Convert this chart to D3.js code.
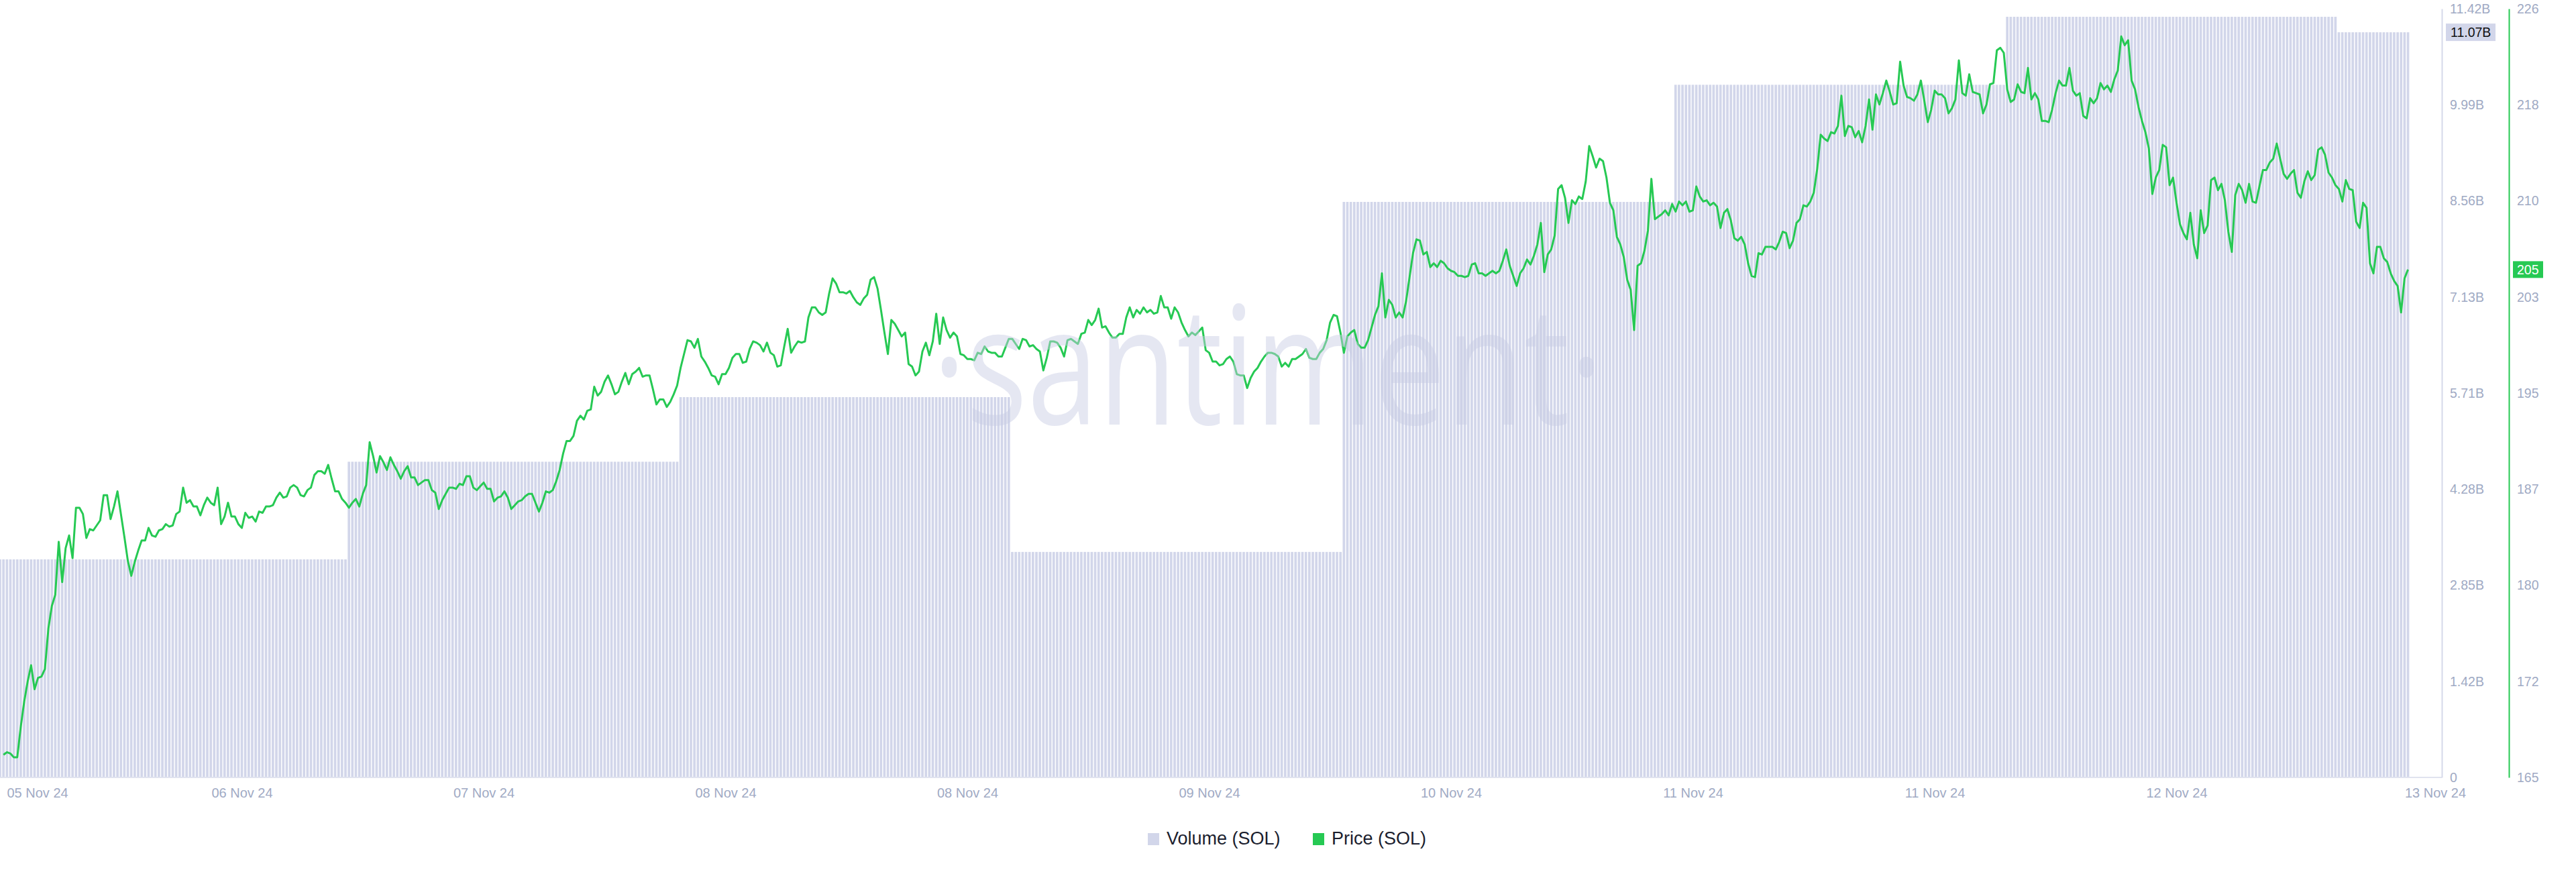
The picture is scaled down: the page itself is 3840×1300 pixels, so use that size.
<!DOCTYPE html>
<html>
<head>
<meta charset="utf-8">
<script src="https://cdn.jsdelivr.net/npm/d3@7"></script>
<style>
  html, body { margin: 0; padding: 0; background: #ffffff; }
  svg { display: block; }
</style>
</head>
<body>
<svg id="chart" width="3840" height="1300"></svg>
<script>
// ---------------- DATA ----------------
const priceStart = "2024-11-05T23:00:00Z";   // first price sample
const priceStepMinutes = 15;                  // sampling interval of the price series
const priceValues = [
  166.8,167.0,166.9,166.6,166.6,169.0,171.0,172.6,173.9,172.0,
  172.9,173.0,173.6,176.8,178.6,179.5,183.7,180.5,183.2,184.2,
  182.4,186.4,186.4,185.9,184.0,184.7,184.6,185.0,185.4,187.4,
  187.4,185.5,186.5,187.7,185.9,184.1,182.2,181.0,182.1,183.0,
  183.8,183.8,184.8,184.2,184.1,184.6,184.7,185.1,184.9,185.0,
  185.9,186.1,188.0,186.8,187.0,186.5,186.5,185.8,186.6,187.2,
  186.8,186.6,188.0,185.1,185.7,186.8,185.7,185.7,185.1,184.8,
  186.0,185.6,185.7,185.3,186.1,186.0,186.5,186.5,186.6,187.2,
  187.6,187.2,187.3,188.0,188.2,188.0,187.4,187.3,187.8,188.0,
  189.0,189.3,189.3,189.1,189.8,188.7,187.7,187.7,187.1,186.8,
  186.4,186.8,187.1,186.5,187.5,188.2,191.6,190.5,189.2,190.5,
  190.0,189.4,190.4,189.8,189.3,188.7,189.3,189.7,188.8,188.8,
  188.2,188.4,188.6,188.6,187.8,187.6,186.3,187.0,187.5,188.0,
  188.0,187.9,188.3,188.2,188.9,188.9,188.0,187.8,188.1,188.4,
  187.9,187.9,186.9,187.2,187.3,187.7,187.2,186.3,186.6,186.9,
  187.0,187.3,187.5,187.5,186.8,186.1,186.8,187.7,187.6,187.8,
  188.5,189.4,190.7,191.7,191.7,192.1,193.3,193.7,193.4,194.1,
  194.2,196.0,195.3,195.6,196.4,196.9,196.2,195.4,195.6,196.4,
  197.1,196.2,197.0,197.2,197.5,196.8,196.9,196.9,195.8,194.6,
  195.0,195.0,194.4,194.8,195.4,196.1,197.5,198.6,199.7,199.6,
  199.1,199.8,198.4,198.0,197.5,196.9,196.8,196.2,197.0,197.0,
  197.5,198.3,198.6,198.6,197.9,198.0,199.0,199.6,199.5,199.3,
  198.8,199.5,198.7,198.5,197.6,197.7,199.2,200.6,198.7,199.2,
  199.6,199.5,199.6,201.5,202.3,202.3,201.9,201.7,201.9,203.4,
  204.6,204.2,203.5,203.5,203.4,203.6,203.1,202.7,202.5,203.0,
  203.3,204.5,204.7,203.8,202.1,200.3,198.6,201.3,201.0,200.5,
  200.0,200.3,197.8,197.6,196.9,197.2,198.8,199.5,198.5,199.6,
  201.8,199.4,201.5,200.5,199.9,200.3,200.0,198.6,198.5,198.2,
  198.2,198.1,198.7,198.6,199.2,198.8,198.7,198.7,198.4,198.4,
  199.1,199.8,199.8,199.4,199.0,199.8,199.7,199.2,199.3,199.0,
  198.8,197.3,198.3,199.6,199.6,199.5,199.1,198.4,199.7,199.8,
  199.6,199.4,200.2,200.3,201.3,200.9,201.3,202.2,200.7,200.8,
  200.3,199.9,199.9,200.2,200.2,201.5,202.3,201.5,202.1,201.8,
  202.3,201.9,202.1,201.8,201.9,203.2,202.3,202.3,201.4,202.3,
  201.9,201.1,200.5,200.0,200.3,200.1,200.4,200.7,198.9,198.7,
  198.0,198.0,197.7,197.8,198.2,198.4,198.0,197.0,196.9,196.9,
  195.9,196.7,197.2,197.5,198.0,198.4,198.7,198.7,198.6,198.4,
  197.6,197.9,197.6,198.2,198.2,198.4,198.6,199.0,198.3,198.2,
  198.2,198.7,199.0,199.7,201.1,201.7,201.6,200.3,198.7,200.0,
  200.3,200.5,199.4,199.1,199.1,199.7,200.7,201.7,202.4,205.0,
  201.5,202.9,202.5,201.5,201.9,201.5,202.8,204.7,206.6,207.7,
  207.6,206.5,206.7,205.5,205.8,205.5,206.0,205.8,205.4,205.2,
  205.1,204.8,204.8,204.7,204.8,205.7,205.8,205.0,205.0,204.8,
  205.0,205.2,205.0,205.2,206.0,206.9,205.6,204.8,204.0,205.0,
  205.4,206.1,205.7,206.4,207.3,209.0,205.1,206.5,206.9,208.0,
  211.7,212.0,211.0,209.0,210.8,210.5,211.1,210.9,212.3,215.1,
  214.3,213.4,214.1,213.9,212.6,210.6,210.0,207.9,207.3,206.3,
  204.5,203.7,200.5,205.6,205.8,206.8,208.4,212.5,209.3,209.5,
  209.7,210.0,209.6,210.5,209.9,210.7,210.4,210.7,209.9,210.0,
  211.9,211.1,210.7,210.8,210.4,210.6,210.3,208.6,209.8,210.1,
  209.2,207.8,207.6,207.9,207.3,205.8,204.8,204.7,206.6,206.5,
  207.1,207.1,207.1,206.9,207.5,208.3,208.2,207.0,207.6,209.0,
  209.3,210.4,210.3,210.7,211.4,213.3,216.0,215.7,215.5,216.2,
  216.1,216.7,219.1,215.9,216.7,216.6,215.8,216.3,215.4,216.7,
  218.8,216.4,219.2,218.4,219.3,220.3,219.4,218.4,218.5,221.8,
  219.9,219.0,218.9,218.7,219.2,220.3,218.7,217.0,218.0,219.5,
  219.2,219.2,218.9,217.7,218.1,218.8,221.9,219.3,219.1,220.8,
  219.4,219.3,219.2,217.7,218.4,220.0,220.1,222.7,222.9,222.5,
  219.6,218.6,218.8,220.0,219.4,219.3,221.3,218.8,219.3,218.8,
  217.1,217.1,217.0,218.0,219.3,220.3,219.9,219.9,221.3,219.5,
  219.1,219.3,217.5,217.3,218.9,218.5,218.9,220.1,219.6,219.9,
  219.4,220.4,221.1,223.8,223.1,223.5,220.3,219.6,218.2,217.1,
  216.2,214.9,211.3,212.6,213.2,215.2,215.0,212.0,212.6,210.6,
  208.9,208.2,207.7,209.8,207.3,206.2,210.0,208.2,208.8,212.4,
  212.6,211.6,212.1,210.8,208.3,206.7,211.2,212.1,211.6,210.6,
  212.1,210.7,210.6,211.9,213.2,213.2,213.8,214.1,215.3,214.1,
  212.9,212.5,212.9,213.2,211.4,211.0,212.3,213.1,212.4,212.8,
  214.8,215.0,214.4,213.0,212.6,212.0,211.7,210.7,212.4,211.7,
  211.6,209.1,208.6,210.6,210.2,205.8,205.0,207.1,207.1,206.2,
  205.9,205.0,204.4,204.0,201.9,204.6,205.3
];

// Daily volume (SOL), each value applies from its day start until the next one
const volumeDays   = ["2024-11-06","2024-11-07","2024-11-08","2024-11-09","2024-11-10","2024-11-11","2024-11-12","2024-11-13"];
const volumeValues = [3.24e9, 4.69e9, 5.65e9, 3.35e9, 8.55e9, 10.29e9, 11.30e9, 11.07e9];

// Axes
const xDomain      = ["2024-11-05T22:45:00Z", "2024-11-13T05:45:00Z"];
const xTickTimes   = ["2024-11-05T22:45:00Z","2024-11-06T16:15:00Z","2024-11-07T09:45:00Z","2024-11-08T03:15:00Z",
                      "2024-11-08T20:45:00Z","2024-11-09T14:15:00Z","2024-11-10T07:45:00Z","2024-11-11T01:15:00Z",
                      "2024-11-11T18:45:00Z","2024-11-12T12:15:00Z","2024-11-13T05:45:00Z"];
const xTickLabels  = ["05 Nov 24","06 Nov 24","07 Nov 24","08 Nov 24","08 Nov 24","09 Nov 24",
                      "10 Nov 24","11 Nov 24","11 Nov 24","12 Nov 24","13 Nov 24"];
const volumeDomain     = [0, 11.42e9];
const volumeTicks      = [0, 1.4275e9, 2.855e9, 4.2825e9, 5.71e9, 7.1375e9, 8.565e9, 9.9925e9, 11.42e9];
const volumeTickLabels = ["0","1.42B","2.85B","4.28B","5.71B","7.13B","8.56B","9.99B","11.42B"];
const priceDomain      = [165, 226];
const priceTicks       = [165, 172.625, 180.25, 187.875, 195.5, 203.125, 210.75, 218.375, 226];
const priceTickLabels  = ["165","172","180","187","195","203","210","218","226"];
const legendLabels     = ["Volume (SOL)", "Price (SOL)"];
const watermarkText    = "\u00B7santiment\u00B7";

// ---------------- LAYOUT / STYLE ----------------
const W = 3840, H = 1300;
const plotTop = 13, plotBottom = 1159, plotRight = 3640, xRangeEnd = 3605;
const volAxisX = 3640, priceAxisX = 3740;
const GREEN = "#26c953", BAR = "#d2d6ea", AXIS_TXT = "#9faac4", AXIS_LINE = "#d5d9ea";
const FONT = "'Liberation Sans', Arial, Helvetica, sans-serif";

const svg = d3.select("#chart");
svg.append("rect").attr("width", W).attr("height", H).attr("fill", "#fff");

const x = d3.scaleUtc().domain(xDomain.map(d => new Date(d))).range([0, xRangeEnd]);
const yVol = d3.scaleLinear().domain(volumeDomain).range([plotBottom, plotTop]);
const yPrice = d3.scaleLinear().domain(priceDomain).range([plotBottom, plotTop]);

const start = new Date(priceStart);
const priceData = priceValues.map((v, i) => ({ t: d3.utcMinute.offset(start, i * priceStepMinutes), v }));
const lastPoint = priceData[priceData.length - 1];

const dayDates = volumeDays.map(d => new Date(d + "T00:00:00Z"));
function volumeAt(t) {
  let i = d3.bisectRight(dayDates, t) - 1;
  i = Math.max(0, Math.min(volumeValues.length - 1, i));
  return volumeValues[i];
}

// clip
svg.append("defs").append("clipPath").attr("id", "plotClip")
  .append("rect").attr("x", 0).attr("y", 0).attr("width", plotRight).attr("height", plotBottom);

const plot = svg.append("g").attr("clip-path", "url(#plotClip)");

// volume bars (one thin bar per 15-min step, height = that day's volume)
const barTimes = d3.utcMinute.every(priceStepMinutes).range(x.domain()[0], d3.utcMinute.offset(lastPoint.t, 1));
const step = x(d3.utcMinute.offset(start, priceStepMinutes)) - x(start);
const barW = step * 0.72;
plot.append("g").selectAll("rect").data(barTimes).join("rect")
  .attr("x", d => x(d) - barW / 2)
  .attr("width", barW)
  .attr("y", d => yVol(volumeAt(d)))
  .attr("height", d => plotBottom - yVol(volumeAt(d)))
  .attr("fill", BAR);

// watermark (single text element)
svg.append("text")
  .attr("x", 1890).attr("y", 633)
  .attr("text-anchor", "middle")
  .attr("font-family", "'Open Sans', 'Noto Sans', sans-serif")
  .attr("font-size", 245)
  .attr("textLength", 1000).attr("lengthAdjust", "spacingAndGlyphs")
  .attr("fill", "rgb(200,205,228)").attr("fill-opacity", 0.47)
  .text(watermarkText);

// price line
plot.append("path").datum(priceData)
  .attr("fill", "none").attr("stroke", GREEN).attr("stroke-width", 3)
  .attr("stroke-linejoin", "round")
  .attr("d", d3.line().x(d => x(d.t)).y(d => yPrice(d.v)));

// bottom baseline
svg.append("line").attr("x1", 0).attr("x2", plotRight).attr("y1", plotBottom).attr("y2", plotBottom)
  .attr("stroke", "#e0e3ef").attr("stroke-width", 2);

// x axis labels
const xAxis = d3.axisBottom(x).tickValues(xTickTimes.map(d => new Date(d)))
  .tickFormat((d, i) => xTickLabels[i]).tickSize(0).tickPadding(16);
const gx = svg.append("g").attr("transform", `translate(0,${plotBottom})`).call(xAxis);
gx.select(".domain").remove();
gx.selectAll("text").attr("font-family", FONT).attr("font-size", 20).attr("fill", AXIS_TXT);
const xTexts = gx.selectAll(".tick text").nodes();
d3.select(xTexts[0]).attr("text-anchor", "start").attr("x", 10);
d3.select(xTexts[xTexts.length - 1]).attr("x", 25);

// volume axis (right)
const volAxis = d3.axisRight(yVol).tickValues(volumeTicks)
  .tickFormat((d, i) => volumeTickLabels[i]).tickSize(0).tickSizeOuter(0).tickPadding(12);
const gv = svg.append("g").attr("transform", `translate(${volAxisX},0)`).call(volAxis);
gv.select(".domain").attr("stroke", AXIS_LINE).attr("stroke-width", 2);
gv.selectAll("text").attr("font-family", FONT).attr("font-size", 19.5).attr("fill", AXIS_TXT);

// price axis (right)
const priceAxis = d3.axisRight(yPrice).tickValues(priceTicks)
  .tickFormat((d, i) => priceTickLabels[i]).tickSize(0).tickSizeOuter(0).tickPadding(12);
const gp = svg.append("g").attr("transform", `translate(${priceAxisX},0)`).call(priceAxis);
gp.select(".domain").attr("stroke", GREEN).attr("stroke-width", 2);
gp.selectAll("text").attr("font-family", FONT).attr("font-size", 19.5).attr("fill", AXIS_TXT);

// last-value badges
const lastVol = volumeAt(lastPoint.t);
const vy = yVol(lastVol);
svg.append("rect").attr("x", volAxisX + 6).attr("y", vy - 13).attr("width", 74).attr("height", 26).attr("fill", BAR);
svg.append("text").attr("x", volAxisX + 13).attr("y", vy).attr("dy", "0.35em")
  .attr("font-family", FONT).attr("font-size", 19.5).attr("fill", "#111")
  .text((lastVol / 1e9).toFixed(2) + "B");

const py = yPrice(lastPoint.v);
svg.append("rect").attr("x", priceAxisX + 6).attr("y", py - 12.5).attr("width", 45).attr("height", 25).attr("fill", GREEN);
svg.append("text").attr("x", priceAxisX + 12).attr("y", py).attr("dy", "0.35em")
  .attr("font-family", FONT).attr("font-size", 19.5).attr("fill", "#fff")
  .text(Math.round(lastPoint.v));

// legend
const legend = svg.append("g");
const legendItems = [
  { label: legendLabels[0], color: BAR, x: 1711 },
  { label: legendLabels[1], color: GREEN, x: 1957 }
];
legendItems.forEach(it => {
  legend.append("rect").attr("x", it.x).attr("y", 1242).attr("width", 17).attr("height", 18).attr("fill", it.color);
  legend.append("text").attr("x", it.x + 28).attr("y", 1259)
    .attr("font-family", FONT).attr("font-size", 27).attr("fill", "#1b1e2e")
    .text(it.label);
});
</script>
</body>
</html>
